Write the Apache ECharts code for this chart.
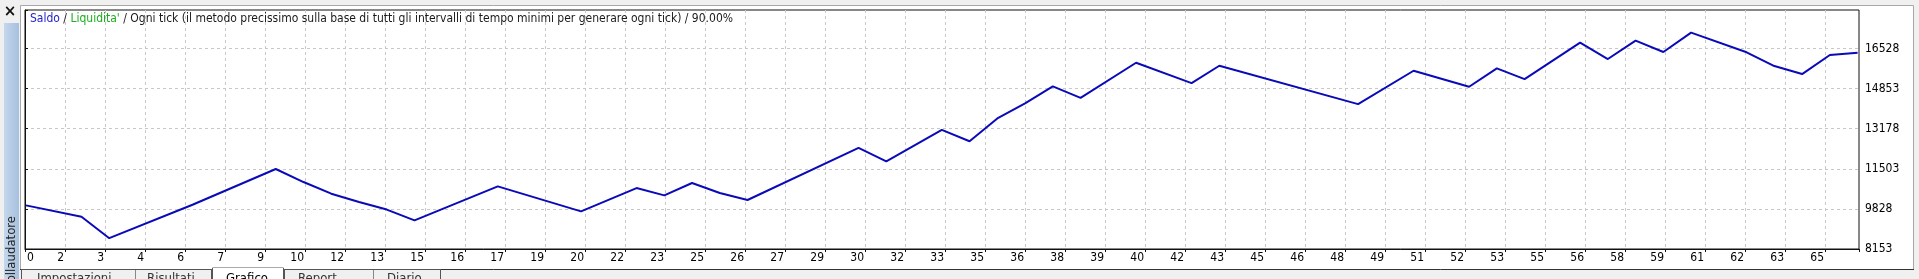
<!DOCTYPE html>
<html><head><meta charset="utf-8">
<script src="https://cdn.jsdelivr.net/npm/echarts@6/dist/echarts.min.js"></script>
<style>html,body{margin:0;padding:0;background:#f0f0f0;overflow:hidden}#c{width:1919px;height:279px}</style>
</head><body><div id="c"></div>
<script>
// x tick labels (trade numbers shown at each vertical grid line)
const xTickLabels = ['0','2','3','4','6','7','9','10','12','13','15','16','17','19','20','22','23','25','26','27','29','30','32','33','35','36','38','39','40','42','43','45','46','48','49','51','52','53','55','56','58','59','61','62','63','65'];
// y tick labels (balance)
const yTickLabels = ['8153','9828','11503','13178','14853','16528'];
// balance curve vertices: trade number and balance
const tradeNo = [0,2,3,6,9,10,11,12,13,14,17,20,22,23,24,25,26,30,31,33,34,35,36,37,38,40,42,43,48,50,52,53,54,56,57,58,59,60,62,63,64,65,66];
const balance = [9975,9501,8605,10000,11495,10950,10464,10113,9800,9346,10770,9723,10699,10393,10909,10490,10200,12374,11817,13128,12655,13605,14233,14945,14468,15933,15083,15808,14204,15598,14929,15699,15251,16771,16088,16855,16381,17190,16369,15795,15460,16256,16352];
const headerParts = ['Saldo', "Liquidita'", ' / Ogni tick (il metodo precissimo sulla base di tutti gli intervalli di tempo minimi per generare ogni tick) / 90.00%'];
const tabNames = ['Impostazioni','Risultati','Grafico','Report','Diario'];

const FONT = "'DejaVu Sans Condensed','Liberation Sans',sans-serif";
const chart = echarts.init(document.getElementById('c'), null, {renderer:'canvas'});
const lineData = tradeNo.map((t,i)=>[t, balance[i]]);
const dash = {color:'#c8c8c8', width:1, type:[3,3]};
const hdr = (c)=>({color:c, fontSize:12, fontWeight:'normal', fontFamily:FONT});

const option = {
  animation:false,
  backgroundColor:'#f0f0f0',
  title:{
    left:30, top:13, padding:0,
    text:'{a|'+headerParts[0]+'}{c| / }{b|'+headerParts[1]+'}{c|'+headerParts[2]+'}',
    textStyle:{ fontWeight:'normal', fontSize:12, fontFamily:FONT, rich:{
      a:hdr('#2323cc'), b:hdr('#1cae1c'), c:hdr('#1a1a1a')
    }}
  },
  grid:{left:25, right:60, top:10, bottom:30, show:true, borderColor:'#111', borderWidth:1, backgroundColor:'#fff', containLabel:false},
  xAxis:[
    {type:'value', position:'bottom', min:0, max:45.85, interval:1,
     axisLine:{show:true, lineStyle:{color:'#111'}},
     axisTick:{show:true, length:3, lineStyle:{color:'#111'}},
     splitLine:{show:true, showMinLine:false, showMaxLine:false, lineStyle:dash},
     axisLabel:{show:true, align:'right', alignMinLabel:'left', margin:3, padding:[0,1,0,2],
       fontSize:12, fontFamily:FONT, color:'#000',
       formatter:v=> Number.isInteger(v) && xTickLabels[v]!==undefined ? xTickLabels[v] : ''}
    },
    {type:'value', show:false, min:-0.036, max:66.05}
  ],
  yAxis:[
    {type:'value', position:'right', min:0, max:5.96, interval:1,
     axisLine:{show:true, lineStyle:{color:'#111'}},
     axisTick:{show:true, length:3, lineStyle:{color:'#111'}},
     splitLine:{show:true, showMinLine:false, showMaxLine:false, lineStyle:dash},
     axisLabel:{show:true, margin:6, fontSize:12, fontFamily:FONT, color:'#000',
       formatter:v=> Number.isInteger(v) && yTickLabels[v]!==undefined ? yTickLabels[v] : ''}
    },
    {type:'value', show:false, min:8153, max:18136}
  ],
  series:[{
    type:'line', xAxisIndex:1, yAxisIndex:1, data:lineData,
    showSymbol:false, symbol:'none',
    lineStyle:{color:'#0a0ab8', width:2}, z:5
  }],
  graphic:[
    {type:'rect', z:-10, shape:{x:20.5, y:5.5, width:1893, height:264}, style:{fill:'#fff', stroke:'#a8a8a8', lineWidth:1}},
    {type:'rect', z:-9, shape:{x:0, y:269.5, width:1919, height:10}, style:{fill:'#f0f0f0'}},
    {type:'line', z:-8, shape:{x1:20, y1:269.5, x2:1914, y2:269.5}, style:{stroke:'#333', lineWidth:1}},
    {type:'rect', z:-7, shape:{x:21.5, y:269.5, width:190, height:14}, style:{fill:'#f0f0f0', stroke:'#555', lineWidth:1}},
    {type:'line', z:-7, shape:{x1:135.5, y1:270, x2:135.5, y2:279}, style:{stroke:'#888', lineWidth:1}},
    {type:'rect', z:-7, shape:{x:212.5, y:268, width:71, height:14}, style:{fill:'#fff', stroke:'#555', lineWidth:1}},
    {type:'rect', z:-6, shape:{x:213, y:268, width:70, height:3}, style:{fill:'#fff'}},
    {type:'rect', z:-7, shape:{x:284.5, y:269.5, width:156, height:14}, style:{fill:'#f0f0f0', stroke:'#555', lineWidth:1}},
    {type:'line', z:-7, shape:{x1:373.5, y1:270, x2:373.5, y2:279}, style:{stroke:'#888', lineWidth:1}},
    {type:'text', z:-5, x:37, y:272, style:{text:tabNames[0], fontSize:13, fontFamily:FONT, fill:'#333', verticalAlign:'top'}},
    {type:'text', z:-5, x:147, y:272, style:{text:tabNames[1], fontSize:13, fontFamily:FONT, fill:'#333', verticalAlign:'top'}},
    {type:'text', z:-5, x:226, y:272, style:{text:tabNames[2], fontSize:13, fontFamily:FONT, fill:'#000', verticalAlign:'top'}},
    {type:'text', z:-5, x:298, y:272, style:{text:tabNames[3], fontSize:13, fontFamily:FONT, fill:'#333', verticalAlign:'top'}},
    {type:'text', z:-5, x:387, y:272, style:{text:tabNames[4], fontSize:13, fontFamily:FONT, fill:'#333', verticalAlign:'top'}},
    {type:'text', z:-5, x:10, y:12, style:{text:'×', fontSize:15, fontWeight:'bold', fontFamily:"'DejaVu Sans',sans-serif", fill:'#111', align:'center', verticalAlign:'middle'}},
    {type:'rect', z:-5, shape:{x:4, y:23, width:15, height:260},
     style:{fill:new echarts.graphic.LinearGradient(0,0,1,0,[{offset:0,color:'#c4d7ec'},{offset:1,color:'#a6c0de'}])}},
    {type:'text', z:-4, x:12, y:216, rotation:Math.PI/2,
     style:{text:'Collaudatore', fontSize:13, fontFamily:FONT, fill:'#222', align:'right', verticalAlign:'middle'}}
  ]
};
chart.setOption(option);
</script>
</body></html>
